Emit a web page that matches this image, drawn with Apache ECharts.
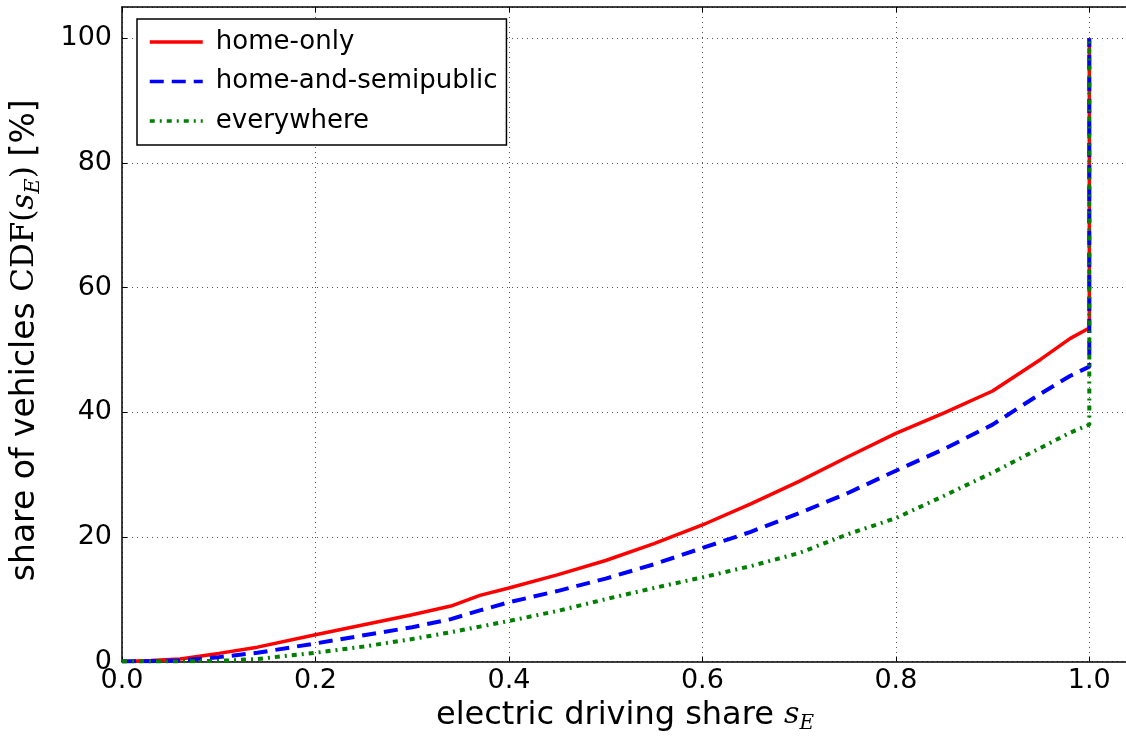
<!DOCTYPE html>
<html>
<head>
<meta charset="utf-8">
<script src="https://cdn.jsdelivr.net/npm/echarts@6/dist/echarts.min.js"></script>
<style>
  html, body { margin: 0; padding: 0; background: #fff; }
  #chart { width: 1126px; height: 737px; }
</style>
</head>
<body>
<div id="chart"></div>
<script>
// electric driving share (x) and CDF values (%)
var shareX = [0, 0.03, 0.06, 0.1, 0.14, 0.2, 0.25, 0.3, 0.34, 0.37, 0.4, 0.45, 0.5, 0.55,
              0.6, 0.65, 0.7, 0.75, 0.8, 0.85, 0.9, 0.95, 0.98, 1.0, 1.0]
var homeOnly = [0, 0.15, 0.4, 1.3, 2.3, 4.3, 5.9, 7.5, 8.9, 10.6, 11.8, 13.9, 16.2, 18.9,
                21.9, 25.3, 28.9, 32.8, 36.6, 39.9, 43.4, 48.5, 51.8, 53.5, 100]
var homeSemi = [0, 0.05, 0.15, 0.7, 1.4, 2.9, 4.2, 5.5, 6.8, 8.2, 9.5, 11.3, 13.3, 15.6,
                18.2, 20.8, 23.8, 27.0, 30.6, 34.1, 38.0, 43.0, 45.8, 47.3, 100]
var everywhere = [0, 0, 0.02, 0.1, 0.4, 1.4, 2.4, 3.6, 4.7, 5.6, 6.5, 8.1, 10.0, 11.8,
                  13.5, 15.3, 17.4, 20.4, 23.0, 26.6, 30.3, 34.3, 36.7, 38.0, 100]
var seriesNames = ['home-only', 'home-and-semipublic', 'everywhere']
var yTicks = [0, 20, 40, 60, 80, 100]

function pairs(ys) {
    return shareX.map(function(x, i) { return [x, ys[i]] })
}

var chart = echarts.init(document.getElementById('chart'))

var gridLine = {
    show: true,
    lineStyle: { color: '#555', width: 1, type: [1, 4] }
}
var tickIn = { show: true, inside: true, length: 5, lineStyle: { color: '#000', width: 1 } }
var font = 'DejaVu Sans'

var option = {
    animation: false,
    backgroundColor: '#fff',
    grid: { left: 122, top: 7, right: -2, bottom: 75.5, outerBoundsMode: 'none' },
    legend: {
        orient: 'vertical',
        left: 137,
        top: 19,
        padding: [10, 9, 11, 11],
        itemWidth: 53,
        itemHeight: 14,
        itemGap: 13.5,
        borderColor: '#000',
        borderWidth: 1.5,
        borderRadius: 0,
        backgroundColor: '#fff',
        itemStyle: { opacity: 0 },
        lineStyle: { width: 3.5 },
        textStyle: { fontFamily: font, fontSize: 26, color: '#000', padding: [0, 0, 0, 8] },
        data: seriesNames
    },
    xAxis: [{
        type: 'value',
        min: 0,
        max: 1.04,
        interval: 0.2,
        axisLine: { show: true, onZero: false, lineStyle: { color: '#000', width: 1.5 } },
        axisTick: tickIn,
        splitLine: gridLine,
        axisLabel: {
            showMaxLabel: false,
            margin: 6,
            fontFamily: font,
            fontSize: 27,
            color: '#000',
            formatter: function(v) { return v.toFixed(1) }
        },
        name: '{t|electric driving share }{m|s}{s|E}',
        nameLocation: 'middle',
        nameGap: 36,
        nameTextStyle: {
            rich: {
                t: { fontFamily: font, fontSize: 32, color: '#000' },
                m: { fontFamily: 'DejaVu Serif', fontStyle: 'italic', fontSize: 30, color: '#000' },
                s: { fontFamily: 'DejaVu Serif', fontStyle: 'italic', fontSize: 20, color: '#000', padding: [16, 0, 0, 0] }
            }
        }
    }, {
        type: 'value',
        position: 'top',
        min: 0,
        max: 1.04,
        interval: 0.2,
        axisLine: { show: true, onZero: false, lineStyle: { color: '#000', width: 1.5 } },
        axisTick: tickIn,
        axisLabel: { show: false },
        splitLine: { show: false }
    }],
    yAxis: {
        type: 'value',
        min: yTicks[0],
        max: 105,
        interval: 20,
        axisLine: { show: true, onZero: false, lineStyle: { color: '#000', width: 1.5 } },
        axisTick: tickIn,
        splitLine: gridLine,
        axisLabel: {
            showMaxLabel: false,
            margin: 10,
            fontFamily: font,
            fontSize: 27,
            color: '#000'
        },
        name: '{t|share of vehicles }{r|CDF(}{m|s}{s|E}{r|) }{t|[%]}',
        nameLocation: 'middle',
        nameGap: 78,
        nameTextStyle: {
            padding: [0, 12, 0, 0],
            rich: {
                t: { fontFamily: font, fontSize: 33, color: '#000' },
                r: { fontFamily: 'DejaVu Serif', fontSize: 31, color: '#000' },
                m: { fontFamily: 'DejaVu Serif', fontStyle: 'italic', fontSize: 31, color: '#000' },
                s: { fontFamily: 'DejaVu Serif', fontStyle: 'italic', fontSize: 21, color: '#000', padding: [17, 0, 0, 0] }
            }
        }
    },
    series: [{
        name: seriesNames[0],
        type: 'line',
        symbol: 'none',
        lineStyle: { color: '#ff0000', width: 3.5 },
        itemStyle: { color: '#ff0000' },
        data: pairs(homeOnly)
    }, {
        name: seriesNames[1],
        type: 'line',
        symbol: 'none',
        lineStyle: { color: '#0000ff', width: 4, type: [14, 8] },
        itemStyle: { color: '#0000ff' },
        data: pairs(homeSemi)
    }, {
        name: seriesNames[2],
        type: 'line',
        symbol: 'none',
        lineStyle: { color: '#008000', width: 4, type: [5, 5, 2, 5] },
        itemStyle: { color: '#008000' },
        data: pairs(everywhere)
    }]
}

chart.setOption(option)
</script>
</body>
</html>
